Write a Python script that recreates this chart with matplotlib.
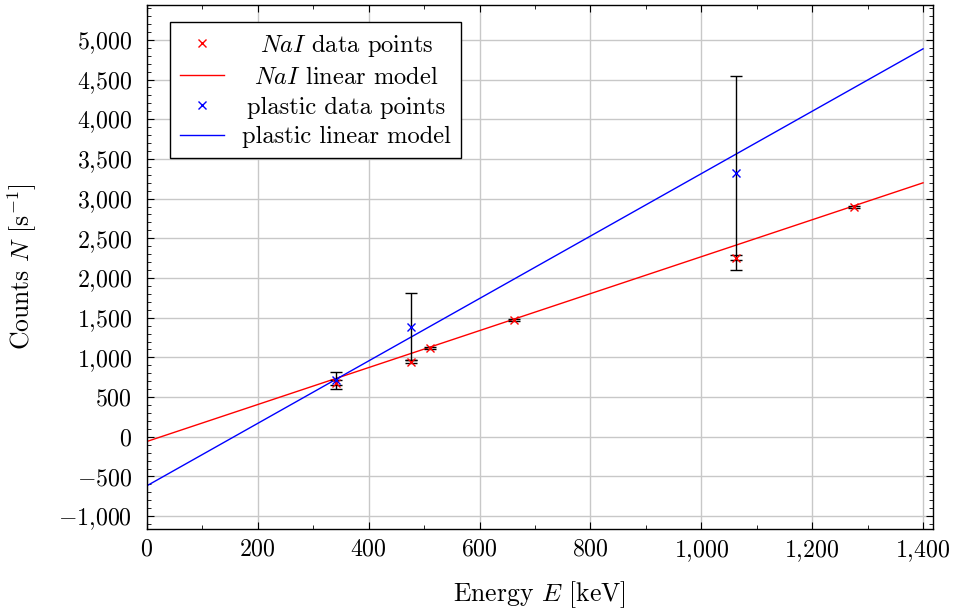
import numpy as np
import matplotlib
matplotlib.use("Agg")
import matplotlib.pyplot as plt
from matplotlib.ticker import MultipleLocator, FuncFormatter
from matplotlib.offsetbox import VPacker

plt.rcParams["font.family"] = "cmr10"
plt.rcParams["mathtext.fontset"] = "cm"
plt.rcParams["axes.formatter.use_mathtext"] = True

# NaI scintillator
nai_energy = [341, 477, 511, 662, 1062, 1275]
nai_counts = [680, 945, 1121, 1473, 2254, 2897]
nai_err = [30, 20, 10, 10, 30, 12]
nai_slope, nai_intercept = 2.327, -59

# plastic scintillator
pl_energy = [341, 477, 1062]
pl_counts = [712, 1385, 3325]
pl_err = [105, 420, 1220]
pl_slope, pl_intercept = 3.931, -617

tick_fs = 17.2
label_fs = 18.5
legend_fs = 17.6

fig = plt.figure(figsize=(9.54, 6.10), dpi=100)
ax = fig.add_axes([0.154, 0.133, 0.824, 0.859])

e = np.linspace(0, 1400, 2)

ax.errorbar(nai_energy, nai_counts, yerr=nai_err, fmt="none", ecolor="black",
            elinewidth=1, capsize=4, capthick=1, zorder=3)
ax.errorbar(pl_energy, pl_counts, yerr=pl_err, fmt="none", ecolor="black",
            elinewidth=1, capsize=4, capthick=1, zorder=3)

ax.plot(nai_energy, nai_counts, "x", color="red", ms=5.5, mew=1,
        label=r"$NaI$ data points", zorder=4)
ax.plot(e, nai_intercept + nai_slope * e, color="red", lw=1,
        label=r"$NaI$ linear model", zorder=2)
ax.plot(pl_energy, pl_counts, "x", color="blue", ms=5.5, mew=1,
        label="plastic data points", zorder=4)
ax.plot(e, pl_intercept + pl_slope * e, color="blue", lw=1,
        label="plastic linear model", zorder=2)

ax.set_xlim(0, 1418)
ax.set_ylim(-1160, 5440)

ax.xaxis.set_major_locator(MultipleLocator(200))
ax.xaxis.set_minor_locator(MultipleLocator(100))
ax.yaxis.set_major_locator(MultipleLocator(500))
ax.yaxis.set_minor_locator(MultipleLocator(100))

fmt = FuncFormatter(lambda v, p: "$" + f"{v:,.0f}".replace(",", "{,}") + "$")
ax.xaxis.set_major_formatter(fmt)
ax.yaxis.set_major_formatter(fmt)

ax.tick_params(which="both", direction="in", top=True, right=True,
               labelsize=tick_fs, color="black")
ax.tick_params(which="major", length=5, width=0.8)
ax.tick_params(axis="y", which="major", pad=10.5)
ax.tick_params(axis="x", which="major", pad=7)
ax.tick_params(which="minor", length=3, width=0.6)

ax.grid(True, which="major", color="#c8c8c8", lw=1)
ax.set_axisbelow(True)

for s in ax.spines.values():
    s.set_linewidth(1)

ax.set_xlabel(r"Energy $E$ [keV]", fontsize=label_fs, labelpad=11)
ax.set_ylabel(r"Counts $N$ [s$^{-1}$]", fontsize=label_fs, labelpad=14)

leg = ax.legend(loc="upper left", bbox_to_anchor=(0.0293, 0.9676),
                borderaxespad=0, fontsize=legend_fs,
                fancybox=False, edgecolor="black", framealpha=1,
                handlelength=1.8, handletextpad=0.75, borderpad=0.4,
                labelspacing=0.32)
leg.get_frame().set_linewidth(1)

# centre the legend labels in their column, like pgfplots does
fig.canvas.draw()
renderer = fig.canvas.get_renderer()
try:
    column = leg._legend_handle_box.get_children()[0]
    items = column.get_children()
    widths = [it.get_children()[1].get_bbox(renderer).width for it in items]
    w_max = max(widths)
    for it in items:
        ta = it.get_children()[1]
        box = VPacker(children=[ta], align="center", width=w_max, pad=0, sep=0)
        box.set_figure(fig)
        it._children[1] = box
except Exception:
    pass

fig.savefig("out.png", dpi=100)
